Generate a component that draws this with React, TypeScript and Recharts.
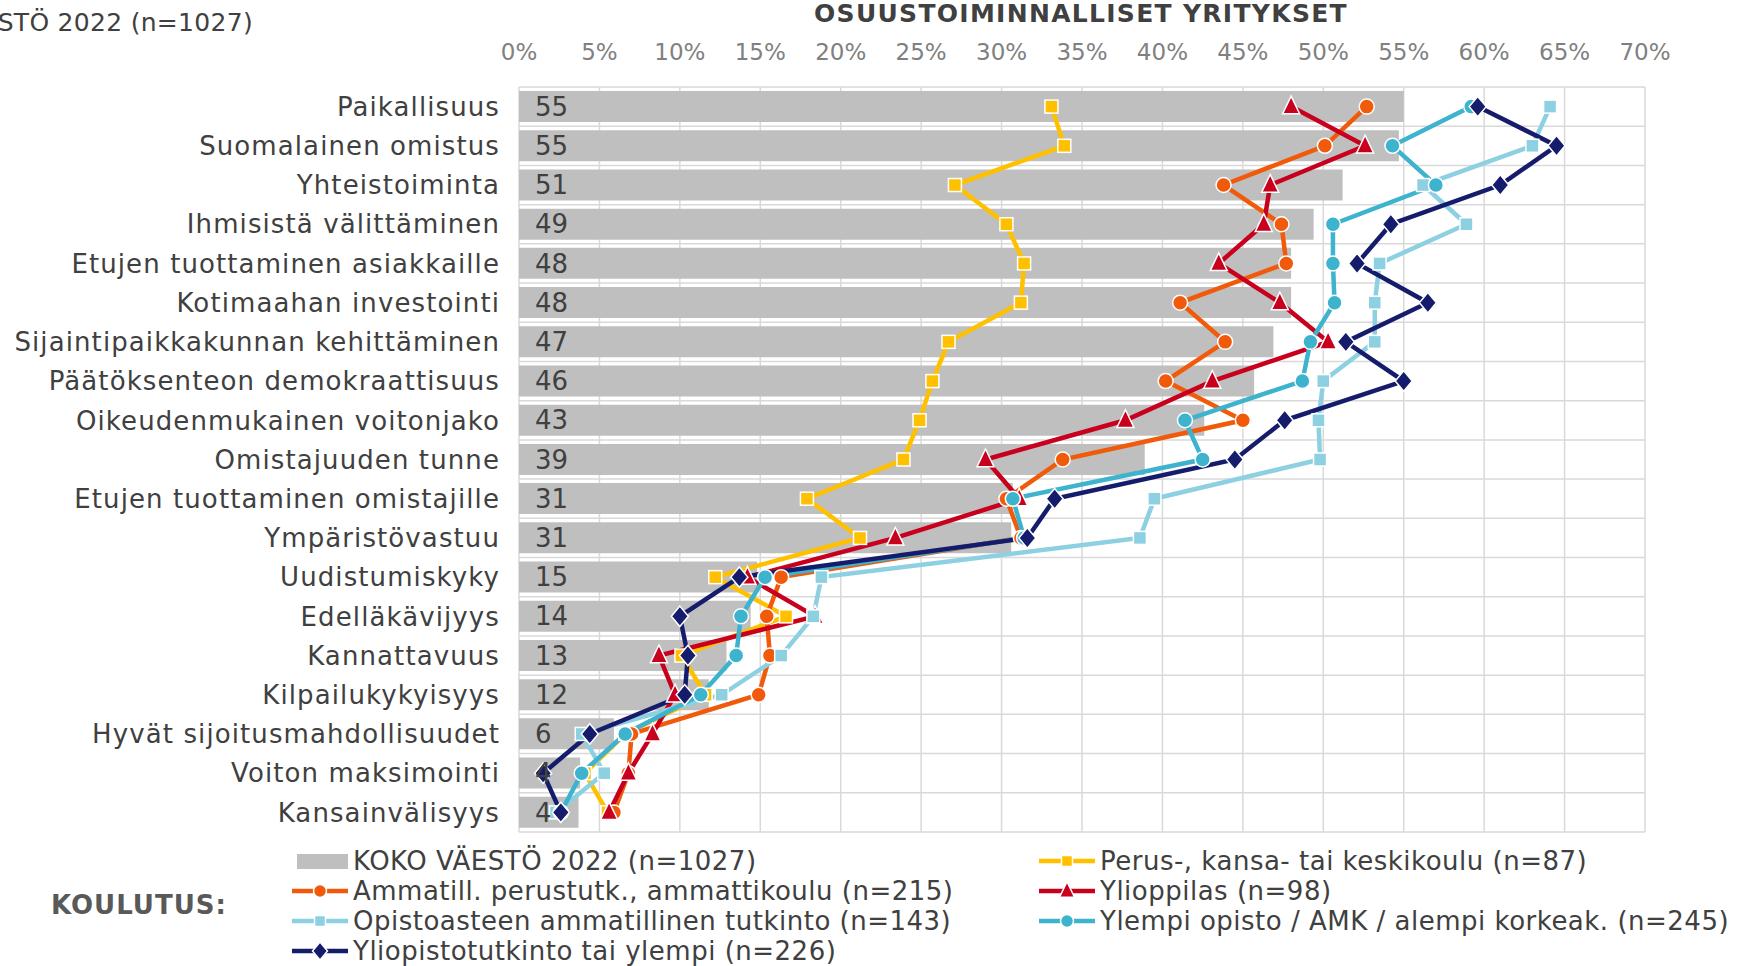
import {
  ComposedChart,
  Bar,
  Line,
  XAxis,
  YAxis,
  CartesianGrid,
  LabelList,
} from "recharts";

const categories = [
  "Paikallisuus",
  "Suomalainen omistus",
  "Yhteistoiminta",
  "Ihmisistä välittäminen",
  "Etujen tuottaminen asiakkaille",
  "Kotimaahan investointi",
  "Sijaintipaikkakunnan kehittäminen",
  "Päätöksenteon demokraattisuus",
  "Oikeudenmukainen voitonjako",
  "Omistajuuden tunne",
  "Etujen tuottaminen omistajille",
  "Ympäristövastuu",
  "Uudistumiskyky",
  "Edelläkävijyys",
  "Kannattavuus",
  "Kilpailukykyisyys",
  "Hyvät sijoitusmahdollisuudet",
  "Voiton maksimointi",
  "Kansainvälisyys",
];

// KOKO VÄESTÖ 2022 (n=1027)
const koko = [55.0, 54.7, 51.2, 49.4, 48.0, 48.0, 46.9, 45.7, 42.6, 38.9, 30.7, 30.6, 14.8, 14.4, 12.9, 11.8, 5.9, 3.8, 3.7];
// Perus-, kansa- tai keskikoulu (n=87)
const perus = [33.1, 33.9, 27.1, 30.3, 31.4, 31.2, 26.7, 25.7, 24.9, 23.9, 17.9, 21.2, 12.2, 16.6, 10.1, 11.6, 6.6, 4.1, 5.5];
// Ammatill. perustutk., ammattikoulu (n=215)
const ammatill = [52.7, 50.1, 43.8, 47.4, 47.7, 41.1, 43.9, 40.2, 45.0, 33.8, 30.3, 31.2, 16.3, 15.4, 15.6, 14.9, 7.0, 6.8, 5.9];
// Ylioppilas (n=98)
const ylioppilas = [48.0, 52.6, 46.7, 46.3, 43.5, 47.3, 50.3, 43.1, 37.7, 29.0, 31.1, 23.4, 14.2, 18.4, 8.7, 9.7, 8.3, 6.8, 5.6];
// Opistoasteen ammatillinen tutkinto (n=143)
const opisto = [64.1, 63.0, 56.2, 58.9, 53.5, 53.2, 53.2, 50.0, 49.7, 49.8, 39.5, 38.6, 18.8, 18.3, 16.3, 12.6, 3.9, 5.3, 2.3];
// Ylempi opisto / AMK / alempi korkeak. (n=245)
const ylempi = [59.2, 54.3, 57.0, 50.6, 50.6, 50.7, 49.2, 48.7, 41.4, 42.5, 30.7, 31.4, 15.3, 13.8, 13.5, 11.3, 6.6, 3.9, 2.6];
// Yliopistotutkinto tai ylempi (n=226)
const yliopisto = [59.6, 64.5, 61.0, 54.2, 52.1, 56.5, 51.4, 55.0, 47.6, 44.5, 33.3, 31.6, 13.7, 10.0, 10.5, 10.3, 4.4, 1.5, 2.6];

const xTicks = [0, 5, 10, 15, 20, 25, 30, 35, 40, 45, 50, 55, 60, 65, 70];

const data = categories.map((name, i) => ({
  name,
  koko: koko[i],
  perus: perus[i],
  ammatill: ammatill[i],
  ylioppilas: ylioppilas[i],
  opisto: opisto[i],
  ylempi: ylempi[i],
  yliopisto: yliopisto[i],
}));

const FONT = "DejaVu Sans";

const series = [
  { key: "perus", label: "Perus-, kansa- tai keskikoulu (n=87)", color: "#FFC000", shape: "square", size: 13 },
  { key: "ammatill", label: "Ammatill. perustutk., ammattikoulu (n=215)", color: "#F05A0A", shape: "circle", size: 15 },
  { key: "ylioppilas", label: "Ylioppilas (n=98)", color: "#C8001E", shape: "triangle", size: 17 },
  { key: "opisto", label: "Opistoasteen ammatillinen tutkinto (n=143)", color: "#8DD0E1", shape: "square", size: 13 },
  { key: "ylempi", label: "Ylempi opisto / AMK / alempi korkeak. (n=245)", color: "#3DB3CE", shape: "circle", size: 15 },
  { key: "yliopisto", label: "Yliopistotutkinto tai ylempi (n=226)", color: "#151C6B", shape: "diamond", size: 17 },
];

function drawMarker(shape: string, cx: number, cy: number, s: number, color: string, key?: any) {
  const h = s / 2;
  const common = { fill: color, stroke: "#fff", strokeWidth: 1.5 };
  if (shape === "square") return <rect key={key} x={cx - h} y={cy - h} width={s} height={s} {...common} />;
  if (shape === "circle") return <circle key={key} cx={cx} cy={cy} r={h} {...common} />;
  if (shape === "triangle")
    return (
      <polygon
        key={key}
        points={`${cx},${cy - s * 0.62} ${cx - h},${cy + s * 0.42} ${cx + h},${cy + s * 0.42}`}
        {...common}
      />
    );
  return (
    <polygon
      key={key}
      points={`${cx},${cy - s * 0.6} ${cx + h},${cy} ${cx},${cy + s * 0.6} ${cx - h},${cy}`}
      {...common}
    />
  );
}

const dotRenderer = (shape: string, color: string, size: number) => (props: any) => {
  const { cx, cy, index } = props;
  if (cx == null || cy == null) return <g key={index} />;
  return drawMarker(shape, cx, cy, size, color, index);
};

const legendText = { fontSize: 26, fill: "#404040", letterSpacing: 0.5 };

function Overlay() {
  const col1 = { lx: 292, tx: 353 };
  const col2 = { lx: 1039, tx: 1100 };
  const rows = [861, 891, 921, 951];
  const slots = [
    [col2, rows[0]],
    [col1, rows[1]],
    [col2, rows[1]],
    [col1, rows[2]],
    [col2, rows[2]],
    [col1, rows[3]],
  ] as const;
  return (
    <svg
      width={1742}
      height={966}
      style={{ position: "absolute", left: 0, top: 0, pointerEvents: "none" }}
      fontFamily={FONT}
    >
      <text x={253} y={31} textAnchor="end" fontSize={25} fill="#404040" letterSpacing={0.3}>
        KOKO VÄESTÖ 2022 (n=1027)
      </text>
      <text
        x={1081}
        y={22}
        textAnchor="middle"
        fontSize={25}
        fontWeight="bold"
        fill="#404040"
        letterSpacing={1.3}
      >
        OSUUSTOIMINNALLISET YRITYKSET
      </text>
      <text x={51} y={914} fontSize={26} fontWeight="bold" fill="#595959" letterSpacing={1}>
        KOULUTUS:
      </text>
      <rect x={297} y={rows[0] - 7} width={51} height={15} fill="#BFBFBF" />
      <text x={col1.tx} y={rows[0] + 9} {...legendText}>
        KOKO VÄESTÖ 2022 (n=1027)
      </text>
      {series.map((s, i) => {
        const [col, y] = slots[i];
        return (
          <g key={s.key}>
            <line x1={col.lx} x2={col.lx + 56} y1={y} y2={y} stroke={s.color} strokeWidth={4.5} />
            {drawMarker(s.shape, col.lx + 28, y, s.size - 2, s.color)}
            <text x={col.tx} y={y + 9} {...legendText}>
              {s.label}
            </text>
          </g>
        );
      })}
    </svg>
  );
}

export default function App() {
  return (
    <div style={{ position: "absolute", left: 0, top: 0, width: 1742, height: 966, background: "#fff" }}>
      <ComposedChart
        width={1742}
        height={966}
        data={data}
        layout="vertical"
        margin={{ top: 0, right: 97, bottom: 134, left: 0 }}
        style={{ fontFamily: FONT }}
      >
        <CartesianGrid
          stroke="#D9D9D9"
          strokeWidth={1.5}
          horizontalCoordinatesGenerator={({ offset }: any) =>
            categories.map((_, i) => offset.top + (i * offset.height) / categories.length).concat(offset.top + offset.height)
          }
        />
        <XAxis
          type="number"
          orientation="top"
          domain={[0, 70]}
          ticks={xTicks}
          tickFormatter={(v) => `${v}%`}
          axisLine={false}
          tickLine={false}
          tickMargin={21}
          height={87}
          tick={{ fontSize: 23, fill: "#808080", fontFamily: FONT }}
        />
        <YAxis
          type="category"
          dataKey="name"
          width={519}
          interval={0}
          axisLine={false}
          tickLine={false}
          tickMargin={13}
          tick={{ fontSize: 26, fill: "#404040", fontFamily: FONT, letterSpacing: 1.1 }}
        />
        <Bar dataKey="koko" fill="#BFBFBF" barSize={31} isAnimationActive={false}>
          <LabelList
            dataKey="koko"
            position="insideLeft"
            offset={16}
            formatter={(v: any) => Math.round(v)}
            style={{ fontSize: 26, fill: "#404040", fontFamily: FONT }}
          />
        </Bar>
        {series.map((s) => (
          <Line
            key={s.key}
            dataKey={s.key}
            stroke={s.color}
            strokeWidth={4.5}
            isAnimationActive={false}
            dot={dotRenderer(s.shape, s.color, s.size)}
            activeDot={false}
          />
        ))}
      </ComposedChart>
      <Overlay />
    </div>
  );
}
